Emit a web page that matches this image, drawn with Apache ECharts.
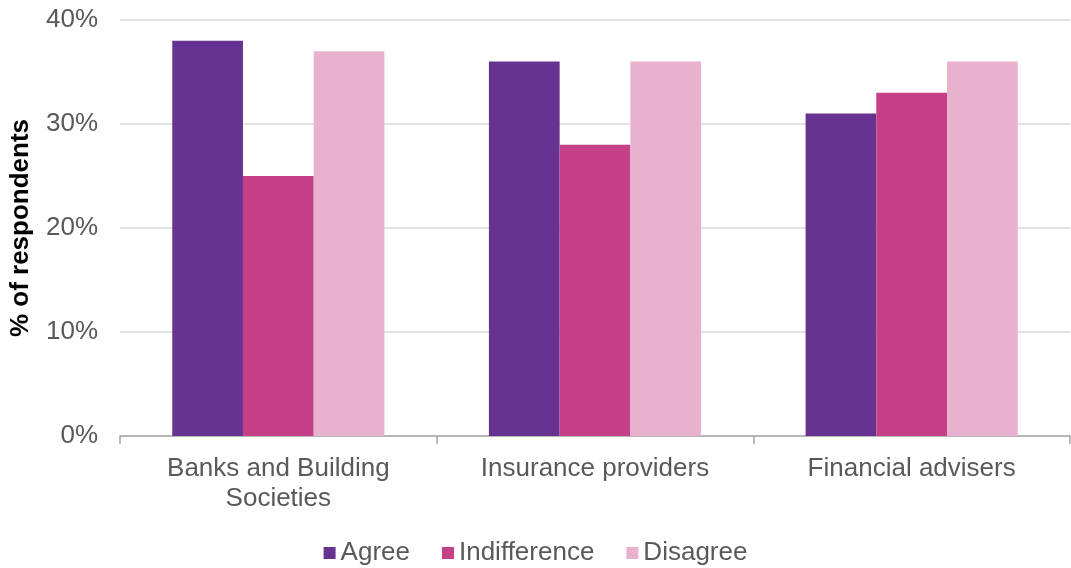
<!DOCTYPE html>
<html>
<head>
<meta charset="utf-8">
<script src="https://cdn.jsdelivr.net/npm/echarts@6/dist/echarts.min.js"></script>
<style>
  html, body { margin: 0; padding: 0; background: #fff; }
  #main { width: 1071px; height: 568px; }
</style>
</head>
<body>
<div id="main"></div>
<script>
var categories = ['Banks and Building\nSocieties', 'Insurance providers', 'Financial advisers']
var agree = [38, 36, 31]
var indifference = [25, 28, 33]
var disagree = [37, 36, 36]

var myChart = echarts.init(document.getElementById('main'))
var font = '"Liberation Sans", Arial, sans-serif'
var option = {
  animation: false,
  backgroundColor: '#fff',
  grid: { left: 120, right: 1, top: 20, bottom: 132, containLabel: false, outerBoundsMode: 'none' },
  legend: {
    data: ['Agree', 'Indifference', 'Disagree'],
    top: 540,
    left: 'center',
    padding: 0,
    itemWidth: 12,
    itemHeight: 12,
    itemGap: 32,
    icon: 'rect',
    textStyle: { color: '#595959', fontSize: 26, fontFamily: font }
  },
  xAxis: {
    type: 'category',
    data: categories,
    axisLine: { lineStyle: { color: '#a6a6a6', width: 1.5 } },
    axisTick: { show: true, length: 8, lineStyle: { color: '#a6a6a6', width: 1.5 } },
    axisLabel: { color: '#595959', fontSize: 26, fontFamily: font, margin: 18, lineHeight: 30 }
  },
  yAxis: {
    type: 'value',
    min: 0,
    max: 40,
    interval: 10,
    name: '% of respondents',
    nameLocation: 'middle',
    nameGap: 86,
    nameTextStyle: { color: '#000', fontSize: 26, fontWeight: 'bold', fontFamily: font },
    axisLine: { show: false },
    axisTick: { show: false },
    axisLabel: { color: '#595959', fontSize: 26, fontFamily: font, margin: 22, formatter: '{value}%' },
    splitLine: { lineStyle: { color: '#d9d9d9', width: 1.5 } }
  },
  series: [
    { name: 'Agree', type: 'bar', data: agree, barGap: 0, barCategoryGap: '33%', itemStyle: { color: '#663390' } },
    { name: 'Indifference', type: 'bar', data: indifference, itemStyle: { color: '#c54087' } },
    { name: 'Disagree', type: 'bar', data: disagree, itemStyle: { color: '#e8b2cf' } }
  ]
}
myChart.setOption(option)
</script>
</body>
</html>
